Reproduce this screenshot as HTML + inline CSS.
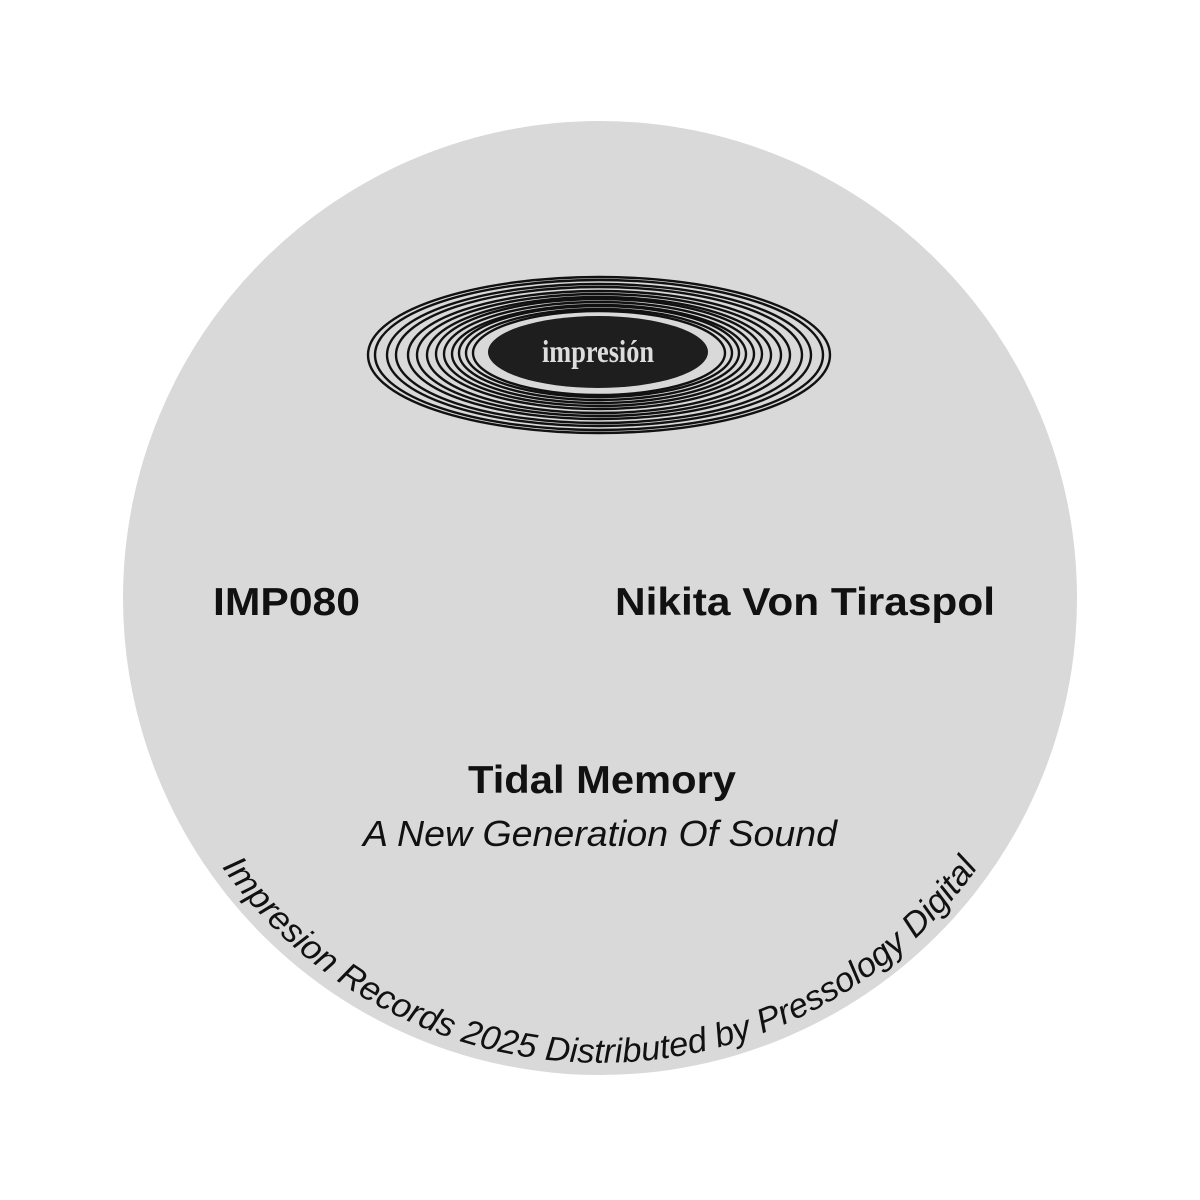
<!DOCTYPE html>
<html><head><meta charset="utf-8"><style>
html,body{margin:0;padding:0;background:#fff;width:1200px;height:1200px;overflow:hidden}
svg{display:block}
</style></head><body>
<svg width="1200" height="1200" viewBox="0 0 1200 1200" xmlns="http://www.w3.org/2000/svg">
<rect width="1200" height="1200" fill="#fff"/>
<circle cx="600" cy="598" r="477" fill="#d9d9d9"/>
<g fill="none" stroke="#111" stroke-width="2.4">
<ellipse cx="599" cy="355" rx="231" ry="78"/>
<ellipse cx="599" cy="355" rx="224" ry="75"/>
<ellipse cx="599" cy="355" rx="212" ry="71"/>
<ellipse cx="599" cy="355" rx="203" ry="68"/>
<ellipse cx="599" cy="355" rx="191" ry="64"/>
<ellipse cx="599" cy="355" rx="182" ry="61"/>
<ellipse cx="599" cy="355" rx="172" ry="58"/>
<ellipse cx="599" cy="354" rx="163" ry="55"/>
<ellipse cx="599" cy="354" rx="155" ry="52"/>
<ellipse cx="599" cy="354" rx="147" ry="49"/>
<ellipse cx="599" cy="353" rx="140" ry="47"/>
<ellipse cx="599" cy="353" rx="133" ry="44"/>
<ellipse cx="599" cy="353" rx="126" ry="42"/>
</g>
<ellipse cx="598" cy="352" rx="110" ry="36" fill="#1e1e1e"/>
<text x="598" y="362" text-anchor="middle" font-family="Liberation Serif, serif" font-weight="bold" font-size="32" fill="#ddd" textLength="112" lengthAdjust="spacingAndGlyphs">impresión</text>
<g font-family="Liberation Sans, sans-serif" fill="#111">
<text x="213" y="615" font-weight="bold" font-size="39" textLength="147" lengthAdjust="spacingAndGlyphs">IMP080</text>
<text x="615" y="615" font-weight="bold" font-size="39" textLength="380" lengthAdjust="spacingAndGlyphs">Nikita Von Tiraspol</text>
<text x="468" y="793" font-weight="bold" font-size="39" textLength="268" lengthAdjust="spacingAndGlyphs">Tidal Memory</text>
<text x="363" y="846" font-style="italic" font-size="36" textLength="474" lengthAdjust="spacingAndGlyphs">A New Generation Of Sound</text>
</g>
<defs>
<path id="arc" d="M 198.0 829.5 A 463 463 0 0 0 1002.0 829.5"/>
</defs>
<text font-family="Liberation Sans, sans-serif" font-style="italic" font-size="34" fill="#111">
<textPath href="#arc" startOffset="50%" text-anchor="middle" textLength="885" lengthAdjust="spacingAndGlyphs">Impresion Records 2025 Distributed by Pressology Digital</textPath>
</text>
</svg>
</body></html>
